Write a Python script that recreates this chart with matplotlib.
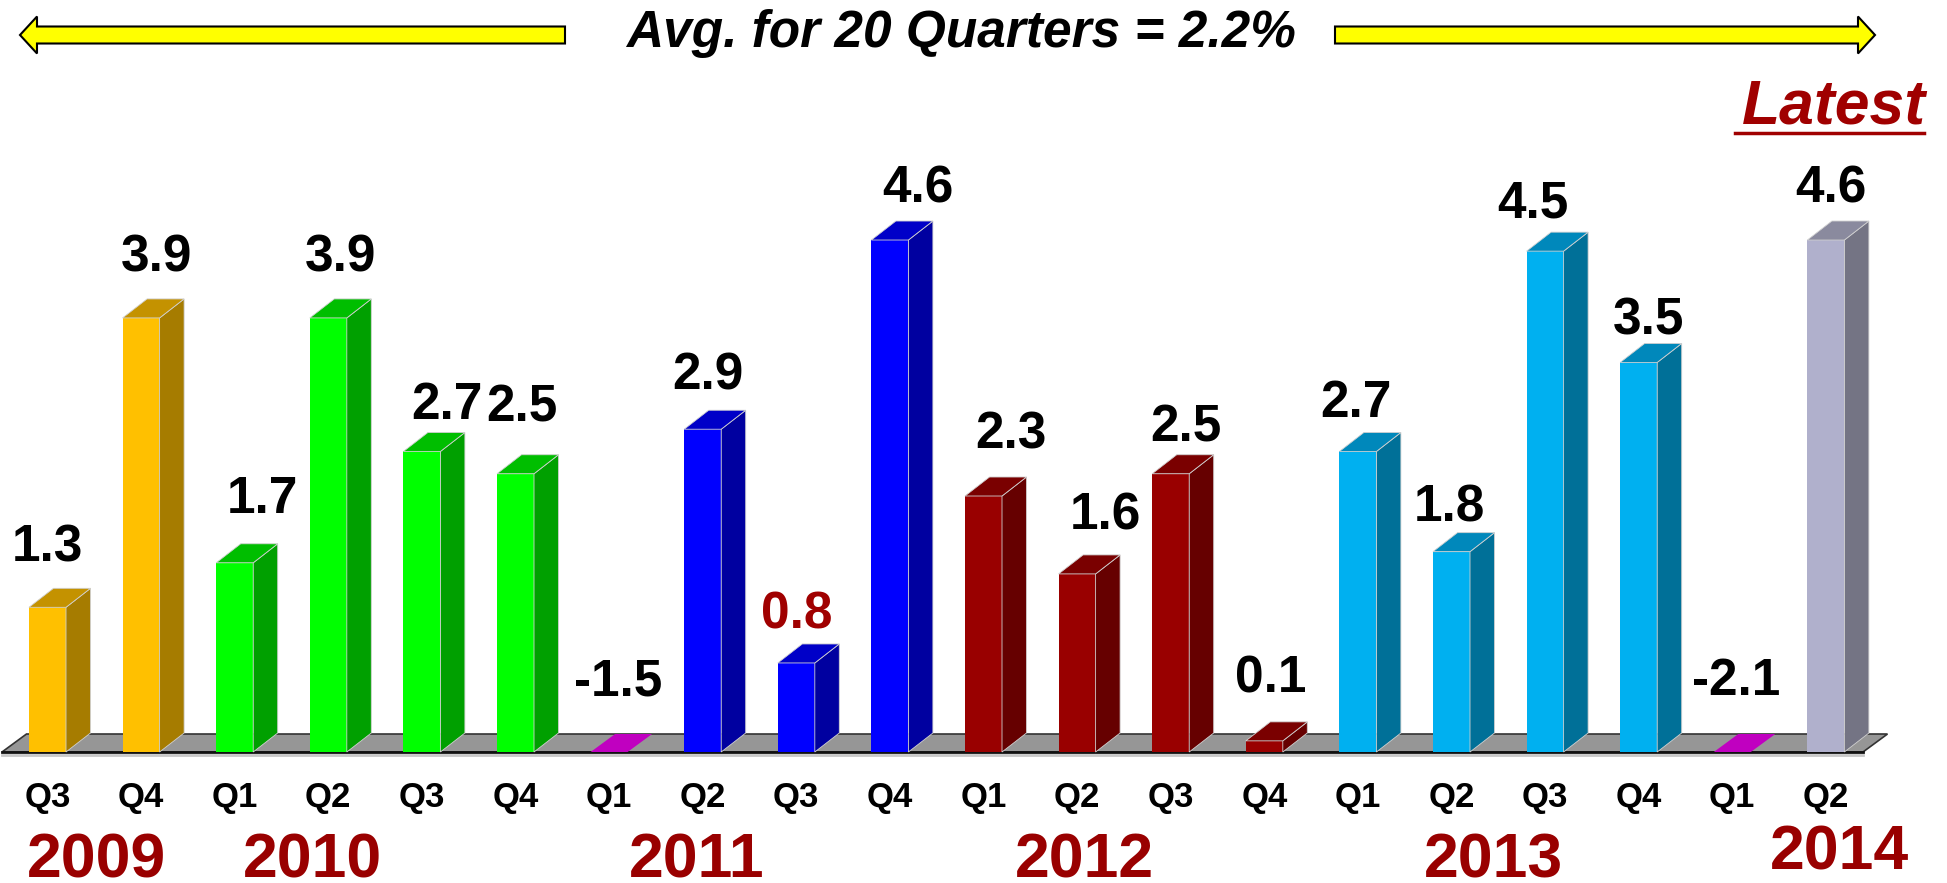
import matplotlib
matplotlib.use("Agg")
import matplotlib.pyplot as plt
from matplotlib.patches import Polygon, FancyArrow

# quarterly values, Q3 2009 .. Q2 2014
quarters = ["Q3", "Q4", "Q1", "Q2", "Q3", "Q4", "Q1", "Q2", "Q3", "Q4",
            "Q1", "Q2", "Q3", "Q4", "Q1", "Q2", "Q3", "Q4", "Q1", "Q2"]
values = [1.3, 3.9, 1.7, 3.9, 2.7, 2.5, -1.5, 2.9, 0.8, 4.6,
          2.3, 1.6, 2.5, 0.1, 2.7, 1.8, 4.5, 3.5, -2.1, 4.6]
years = ["2009", "2010", "2011", "2012", "2013", "2014"]
year_of_bar = [0, 0, 1, 1, 1, 1, 2, 2, 2, 2, 3, 3, 3, 3, 4, 4, 4, 4, 5, 5]
title = "Avg. for 20 Quarters = 2.2%"
highlight = 8  # the 0.8 label is red

# layout (pixels of the 1947x883 canvas)
W, H = 1947, 883
PX_X = 93.6      # px per bar slot
PX_Y = 111.3     # px per unit
X0 = 47.5        # px of first bar centre
Y0 = 752         # px (from top) of the zero line
year_x = [0.52, 2.83, 6.94, 11.08, 15.45, 19.15]
label_nudge = [0, 15, 28, 12, 25, 6, 9, 5, 0, 28,
               27, 28, 15, 6, -2, -2, -12, 10, 4, 5]
label_rise = [46, 46, 50, 46, 32, 52, 57, 40, 34, 38,
              48, 44, 32, 48, 34, 30, 34, 28, 57, 38]

# colours: front, side, top
year_cols = [("#FFC000", "#A67C00", "#C49200"),
             ("#00FF00", "#00A000", "#00BE00"),
             ("#0000FF", "#0000A0", "#0000C8"),
             ("#990000", "#660000", "#7A0000"),
             ("#00B0F0", "#007098", "#0088BB"),
             ("#B0B0CC", "#747484", "#8A8A9E")]
neg_col = "#C000C0"
dark_red = "#990000"

fig = plt.figure(figsize=(W / 100, H / 100), dpi=100)
ax = fig.add_axes([0, 0, 1, 1])
ax.set_xlim(-X0 / PX_X, (W - X0) / PX_X)
ax.set_ylim(-(H - Y0) / PX_Y, Y0 / PX_Y)
ax.axis("off")

def py(p):  # px from top -> data y
    return (Y0 - p) / PX_Y

def pxx(p):  # px from left -> data x
    return (p - X0) / PX_X

w = 37 / PX_X
dx = 24.5 / PX_X
dy = 19 / PX_Y
font = "Liberation Sans"

# floor
fl, fr = pxx(2), pxx(1863)
fdy = 18 / PX_Y
ax.add_patch(Polygon([(fl, 0), (fr, 0), (fr + dx, fdy), (fl + dx, fdy)],
                     closed=True, facecolor="#969696", edgecolor="#333333", lw=1.2, zorder=1))
ax.plot([fl, fr], [-2.5 / PX_Y, -2.5 / PX_Y], color="#C8C8C8", lw=2, zorder=1)
ax.plot([fl, fr], [0, 0], color="#111111", lw=2, zorder=2)

for i, v in enumerate(values):
    front, side, top = year_cols[year_of_bar[i]]
    l, r = i - w / 2, i + w / 2
    if v > 0:
        ax.add_patch(Polygon([(l, 0), (r, 0), (r, v), (l, v)], closed=True,
                             facecolor=front, edgecolor="none", zorder=3))
        ax.add_patch(Polygon([(r, 0), (r + dx, dy), (r + dx, v + dy), (r, v)], closed=True,
                             facecolor=side, edgecolor="#D0D0D0", lw=0.6, zorder=3))
        ax.add_patch(Polygon([(l, v), (r, v), (r + dx, v + dy), (l + dx, v + dy)], closed=True,
                             facecolor=top, edgecolor="#D0D0D0", lw=0.6, zorder=3))
        ly = v + label_rise[i] / PX_Y
    else:
        ax.add_patch(Polygon([(l, 0), (r, 0), (r + dx, fdy), (l + dx, fdy)], closed=True,
                             facecolor=neg_col, edgecolor="none", zorder=3))
        ly = label_rise[i] / PX_Y
    ax.text(i + label_nudge[i] / PX_X, ly, f"{v:.1f}", ha="center", va="baseline",
            fontsize=37, fontweight="bold", family=font,
            color="#A00000" if i == highlight else "black", zorder=5)
    ax.text(i, py(797), quarters[i], ha="center", va="center",
            fontsize=25, fontweight="bold", family=font, color="black")

for k, yr in enumerate(years):
    base = py(870) if k == len(years) - 1 else py(877)
    ax.text(year_x[k], base, yr, ha="center", va="baseline", fontsize=45,
            fontweight="bold", family=font, color=dark_red)

# header with arrows
ay = py(35)
ax.add_patch(FancyArrow(pxx(565), ay, pxx(20) - pxx(565), 0, width=17 / PX_Y,
                        head_width=37 / PX_Y, head_length=17 / PX_X, length_includes_head=True,
                        facecolor="#FFFF00", edgecolor="black", lw=1.5, zorder=4))
ax.add_patch(FancyArrow(pxx(1335), ay, pxx(1875) - pxx(1335), 0, width=17 / PX_Y,
                        head_width=37 / PX_Y, head_length=17 / PX_X, length_includes_head=True,
                        facecolor="#FFFF00", edgecolor="black", lw=1.5, zorder=4))
ax.text(pxx(961), py(47), title, ha="center", va="baseline", fontsize=37,
        fontweight="bold", fontstyle="italic", family=font, color="black")

ax.text(pxx(1834), py(124), "Latest", ha="center", va="baseline", fontsize=45,
        fontweight="bold", fontstyle="italic", family=font, color="#A00000")
ax.plot([pxx(1735), pxx(1924)], [py(133), py(133)], color="#A00000", lw=2.5)

fig.savefig("out.png", dpi=100)
